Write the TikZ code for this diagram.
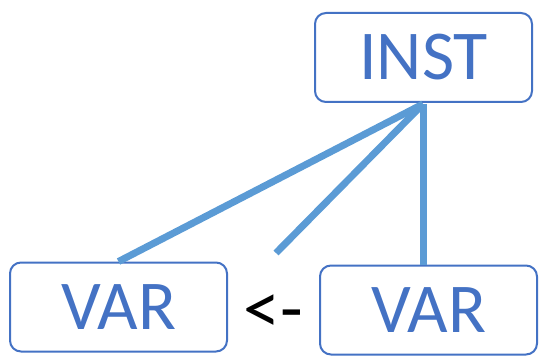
\documentclass[tikz,border=0pt]{standalone}
\usepackage{fontspec}
\setmainfont{Carlito}
\definecolor{boxblue}{HTML}{4472C4}
\definecolor{lineblue}{HTML}{5B9BD5}
\begin{document}
\begin{tikzpicture}[x=1pt,y=-1pt,
  box/.style={draw=boxblue, line width=2pt, rounded corners=11pt, minimum width=217pt, minimum height=89pt, text=boxblue, font=\fontsize{70}{70}\selectfont, inner sep=0pt},
  link/.style={draw=lineblue, line width=7pt}]
\useasboundingbox (0,0) rectangle (539,361);
\node[box] (inst) at (423.5,57.5) {INST};
\node[box] (lv) at (118.5,307) {VAR};
\node[box] (rv) at (428.5,310) {VAR};
\node[font=\fontsize{74}{74}\selectfont, inner sep=0pt] (arr) at (273,314) {<-};
\coordinate (hub) at (423,104);
\coordinate (free) at (276,253);
\draw[link] (hub) -- (lv.north);
\draw[link] (hub) -- (free);
\draw[link] (hub) -- (hub |- rv.north);
\end{tikzpicture}
\end{document}
